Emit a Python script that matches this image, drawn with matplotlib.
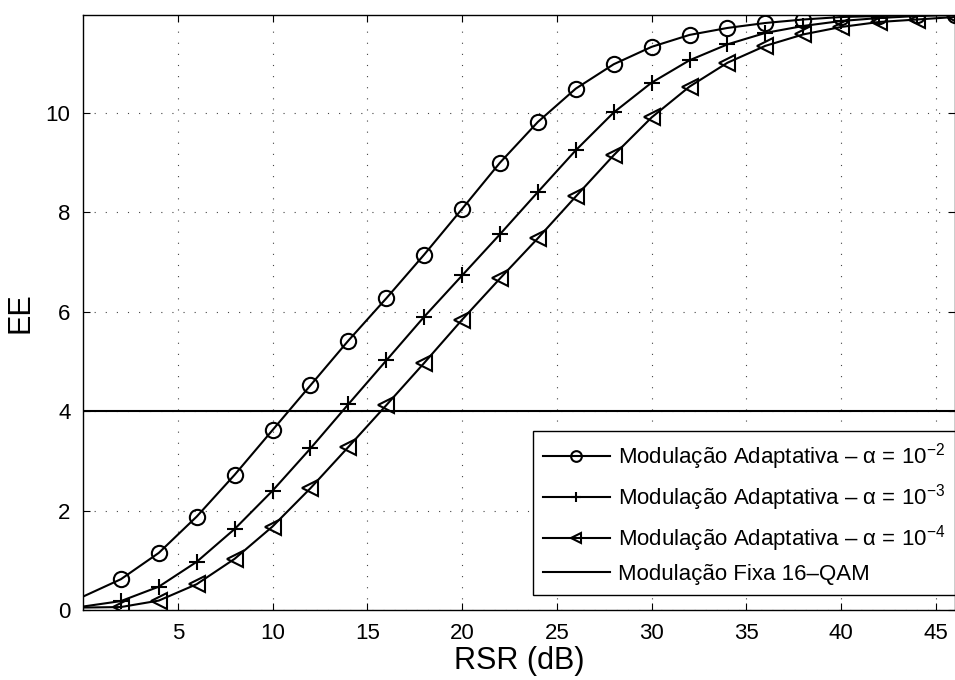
import matplotlib
matplotlib.use("Agg")
from matplotlib import pyplot as plt

# fonte parecida com Helvetica (MATLAB)
plt.rcParams['font.family'] = ['Liberation Sans', 'DejaVu Sans']
plt.rcParams['mathtext.fontset'] = 'custom'
plt.rcParams['mathtext.rm'] = 'Liberation Sans'
plt.rcParams['mathtext.it'] = 'Liberation Sans:italic'

# dados
rsr = [0, 2, 4, 6, 8, 10, 12, 14, 16, 18, 20, 22, 24, 26, 28, 30, 32, 34, 36, 38, 40, 42, 44, 46]
ee_a2 = [0.27, 0.62, 1.15, 1.88, 2.72, 3.62, 4.52, 5.42, 6.27, 7.15, 8.07, 9.00,
         9.82, 10.49, 10.98, 11.33, 11.57, 11.71, 11.81, 11.88, 11.93, 11.95, 11.97, 11.98]
ee_a3 = [0.07, 0.18, 0.47, 0.97, 1.63, 2.40, 3.25, 4.14, 5.02, 5.90, 6.73, 7.56,
         8.41, 9.25, 10.01, 10.61, 11.06, 11.38, 11.61, 11.75, 11.85, 11.91, 11.95, 11.97]
ee_a4 = [0.05, 0.06, 0.19, 0.52, 1.03, 1.68, 2.45, 3.28, 4.12, 4.97, 5.84, 6.67,
         7.48, 8.32, 9.15, 9.91, 10.53, 11.01, 11.35, 11.58, 11.73, 11.83, 11.88, 11.93]
ee_fixa = 4
xticks = [5, 10, 15, 20, 25, 30, 35, 40, 45]
yticks = [0, 2, 4, 6, 8, 10]

labels = [r'Modulação Adaptativa – α = 10$^{-2}$',
          r'Modulação Adaptativa – α = 10$^{-3}$',
          r'Modulação Adaptativa – α = 10$^{-4}$',
          'Modulação Fixa 16–QAM']

fig = plt.figure(figsize=(9.55, 6.8), dpi=100)
ax = fig.add_axes([0.0869, 0.1029, 0.913, 0.875])

style = dict(color='black', lw=1.5, ms=11, mew=1.5, mfc='none', markevery=slice(1, None))
ax.plot(rsr, ee_a2, marker='o', label=labels[0], **style)
ax.plot(rsr, ee_a3, marker='+', label=labels[1], **style)
ax.plot(rsr, ee_a4, marker='<', label=labels[2], **style)
ax.plot([rsr[0], rsr[-1]], [ee_fixa, ee_fixa], color='black', lw=1.5, label=labels[3])

ax.set_xlim(0, 46)
ax.set_ylim(0, 11.97)
ax.set_xticks(xticks)
ax.set_yticks(yticks)
ax.tick_params(direction='in', length=5, width=0.8, labelsize=16,
               top=True, right=True, pad=9)
ax.grid(True, linestyle=(0, (1, 9)), color='#444444', lw=0.8)
for s in ax.spines.values():
    s.set_linewidth(1.0)

ax.set_xlabel('RSR (dB)', fontsize=22, labelpad=2)
ax.set_ylabel('EE', fontsize=22, labelpad=7)

leg = ax.legend(loc='lower right', bbox_to_anchor=(1.0, 0.025), fontsize=16,
                frameon=True, fancybox=False, edgecolor='black', framealpha=1,
                handlelength=3.0, borderpad=0.45, labelspacing=0.45, handletextpad=0.35,
                borderaxespad=0, markerscale=0.7)
leg.get_frame().set_linewidth(1.0)

fig.savefig('out.png', dpi=100)
